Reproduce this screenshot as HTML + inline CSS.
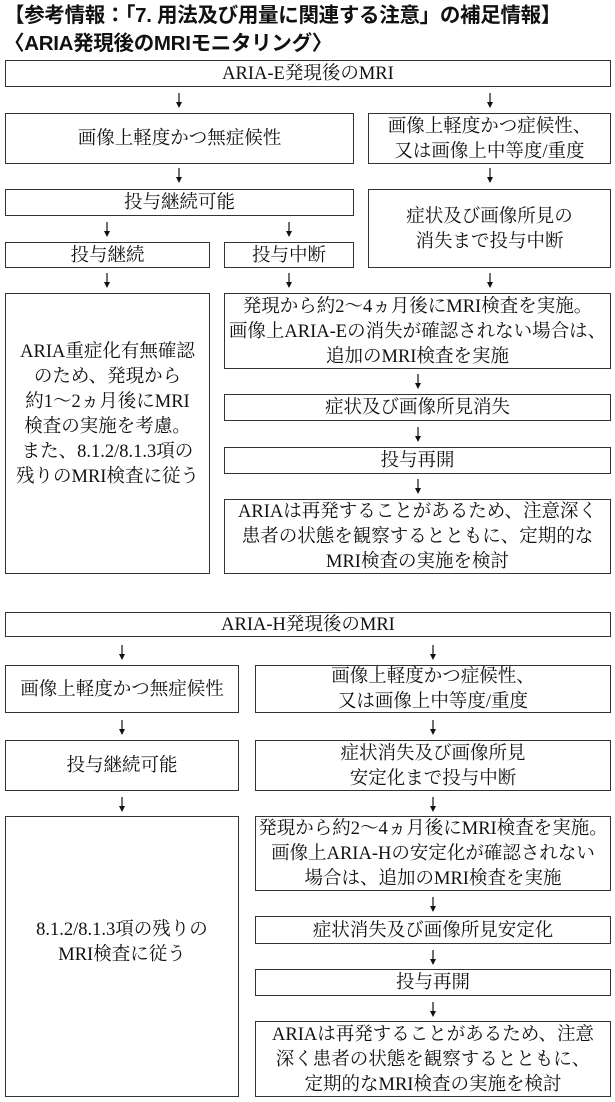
<!DOCTYPE html>
<html><head><meta charset="utf-8"><style>
body{margin:0;width:615px;height:1102px;background:#fff;position:relative;overflow:hidden}
.t{position:absolute;left:4px;font-family:"Liberation Sans","Noto Sans CJK JP",sans-serif;font-weight:bold;font-size:20.5px;line-height:24px;color:#111;white-space:nowrap;letter-spacing:-0.3px}
.b{position:absolute;box-sizing:border-box;border:1.5px solid #333;display:flex;align-items:center;justify-content:center;text-align:center;font-family:"Liberation Serif","Noto Serif CJK SC",serif;font-size:18.5px;line-height:25px;color:#111;white-space:nowrap;padding-top:2px}
svg{position:absolute;left:0;top:0}
</style></head><body>
<div class="t" style="top:4px">【参考情報：「7. 用法及び用量に関連する注意」の補足情報】</div>
<div class="t" style="top:32px">〈ARIA発現後のMRIモニタリング〉</div>

<div class="b" style="left:5px;top:60px;width:606px;height:27px">ARIA-E発現後のMRI</div>
<div class="b" style="left:5px;top:113px;width:349px;height:51px">画像上軽度かつ無症候性</div>
<div class="b" style="left:368px;top:113px;width:243px;height:51px">画像上軽度かつ症候性、<br>又は画像上中等度/重度</div>
<div class="b" style="left:5px;top:189px;width:349px;height:27px">投与継続可能</div>
<div class="b" style="left:368px;top:189px;width:243px;height:79px">症状及び画像所見の<br>消失まで投与中断</div>
<div class="b" style="left:5px;top:242px;width:205px;height:26px">投与継続</div>
<div class="b" style="left:224px;top:242px;width:130px;height:26px">投与中断</div>
<div class="b" style="left:5px;top:293px;width:205px;height:281px;padding-bottom:40px">ARIA重症化有無確認<br>のため、発現から<br>約1～2ヵ月後にMRI<br>検査の実施を考慮。<br>また、8.1.2/8.1.3項の<br>残りのMRI検査に従う</div>
<div class="b" style="left:224px;top:293px;width:387px;height:76px">発現から約2～4ヵ月後にMRI検査を実施。<br>画像上ARIA-Eの消失が確認されない場合は、<br>追加のMRI検査を実施</div>
<div class="b" style="left:224px;top:394px;width:387px;height:27px">症状及び画像所見消失</div>
<div class="b" style="left:224px;top:447px;width:387px;height:27px">投与再開</div>
<div class="b" style="left:224px;top:499px;width:387px;height:75px">ARIAは再発することがあるため、注意深く<br>患者の状態を観察するとともに、定期的な<br>MRI検査の実施を検討</div>

<div class="b" style="left:5px;top:612px;width:606px;height:25px">ARIA-H発現後のMRI</div>
<div class="b" style="left:5px;top:665px;width:234px;height:48px">画像上軽度かつ無症候性</div>
<div class="b" style="left:255px;top:665px;width:356px;height:48px">画像上軽度かつ症候性、<br>又は画像上中等度/重度</div>
<div class="b" style="left:5px;top:740px;width:234px;height:51px">投与継続可能</div>
<div class="b" style="left:255px;top:740px;width:356px;height:51px">症状消失及び画像所見<br>安定化まで投与中断</div>
<div class="b" style="left:5px;top:816px;width:234px;height:281px;padding-bottom:30px">8.1.2/8.1.3項の残りの<br>MRI検査に従う</div>
<div class="b" style="left:255px;top:816px;width:356px;height:75px">発現から約2～4ヵ月後にMRI検査を実施。<br>画像上ARIA-Hの安定化が確認されない<br>場合は、追加のMRI検査を実施</div>
<div class="b" style="left:255px;top:916px;width:356px;height:28px">症状消失及び画像所見安定化</div>
<div class="b" style="left:255px;top:969px;width:356px;height:27px">投与再開</div>
<div class="b" style="left:255px;top:1021px;width:356px;height:76px">ARIAは再発することがあるため、注意<br>深く患者の状態を観察するとともに、<br>定期的なMRI検査の実施を検討</div>

<svg width="615" height="1102" id="s"></svg>
<script>
var pts=[[179,93],[490,93],[179,168],[490,168],[107,222],[289,222],[107,273],[289,273],[490,273],[418,374],[418,427],[418,479],[122,645],[433,645],[122,720],[433,720],[122,797],[433,797],[433,897],[433,950],[433,1002]];
var h='';pts.forEach(function(p){var x=p[0],y=p[1];h+='<line x1="'+x+'" y1="'+y+'" x2="'+x+'" y2="'+(y+10)+'" stroke="#111" stroke-width="1.2"/><path d="M'+(x-3)+','+(y+9)+' L'+(x+3)+','+(y+9)+' L'+x+','+(y+15)+' Z" fill="#111"/>';});
document.getElementById('s').innerHTML=h;
</script>
</body></html>
